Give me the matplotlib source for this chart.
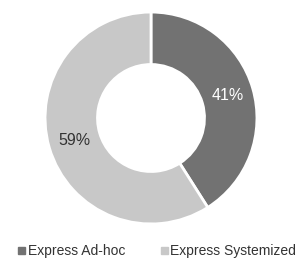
import matplotlib
matplotlib.use("Agg")
import matplotlib.pyplot as plt
from matplotlib.patches import Patch
import numpy as np

labels = ["Express Ad-hoc", "Express Systemized"]
values = [41, 59]
colors = ["#727272", "#c8c8c8"]

plt.rcParams['font.family'] = ['Liberation Sans', 'DejaVu Sans']
fig = plt.figure(figsize=(2.99, 2.58), dpi=100)
ax = fig.add_axes([151/299 - 107/299, 1 - (118+107)/258, 214/299, 214/258])
wedges, _ = ax.pie(values, colors=colors, startangle=90, counterclock=False,
                   wedgeprops=dict(width=0.495, edgecolor="white", linewidth=2))
ax.set_xlim(-1.01, 1.01)
ax.set_ylim(-1.01, 1.01)
ax.set_aspect("equal")
ang = 90
for v, w in zip(values, wedges):
    mid = np.deg2rad(ang - v * 3.6 / 2)
    ang -= v * 3.6
    r = 0.755
    col = "white" if v == 41 else "#333333"
    ax.text(r * np.cos(mid), r * np.sin(mid), f"{v}%", ha="center", va="center",
            fontsize=11.5, color=col)
handles = [Patch(color=c, label=l) for c, l in zip(colors, labels)]
fig.legend(handles=handles, loc="lower left", bbox_to_anchor=(0.02, -0.05), ncol=2,
           frameon=False, fontsize=10.0, handlelength=0.5, handleheight=0.5,
           handletextpad=0.15, columnspacing=2.6, labelcolor="#333333")
fig.savefig("out.png", dpi=100)
